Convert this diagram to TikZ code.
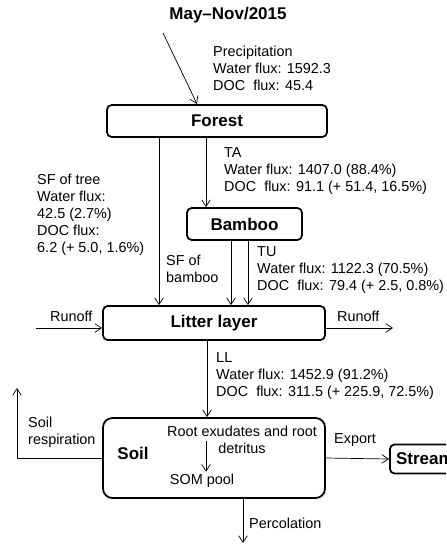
\documentclass[tikz,border=0pt]{standalone}
\usepackage{fontspec}
\setmainfont{Liberation Sans}
\usetikzlibrary{arrows.meta, positioning, calc}
\newcommand{\boxfont}{\fontsize{14.5}{17}\selectfont\bfseries}
\newcommand{\lblfont}{\fontsize{12.3}{14.6}\selectfont}
\tikzset{
  box/.style={rectangle, draw, rounded corners=4pt, line width=1.5pt,
    inner sep=0pt, font=\boxfont},
  arrow/.style={-{Straight Barb[length=2mm,width=2.6mm]}, line width=0.6pt},
  line/.style={line width=0.6pt},
  lbl/.style={align=left, anchor=west, inner sep=0pt, font=\lblfont}
}

\begin{document}
\begin{tikzpicture}[x=0.03cm, y=-0.03cm]
  \useasboundingbox (0,0) rectangle (446,544);
  \clip (0,0) rectangle (446,544);

  % boxes
  \node[font=\boxfont] (title) at (228,15) {May–Nov/2015};
  \node[box, minimum width=6.6cm, minimum height=0.96cm] (forest) at (217,121) {Forest};
  \node[box, minimum width=3.45cm, minimum height=0.96cm] (bamboo) at (244.5,224) {Bamboo};
  \node[box, minimum width=6.66cm, minimum height=1.02cm] (litter) at (214,323) {Litter layer};
  \node[box, rounded corners=8pt, minimum width=6.66cm, minimum height=2.4cm] (soil) at (214,458) {};
  \node[box, minimum width=2.1cm, minimum height=0.87cm, anchor=west] (stream) at (389,459) {Stream};

  % soil content
  \node[font=\boxfont] (soiltxt) at (133,453) {Soil};
  \node[font=\lblfont, align=center, inner sep=0pt] (root) at (242,440) {Root exudates and root\\detritus};
  \node[font=\lblfont, inner sep=0pt] (som) at (202,481) {SOM pool};
  \coordinate (rootarr) at (206,441);
  \draw[arrow] (rootarr) -- ([yshift=2pt]rootarr |- som.north);

  % flux labels
  \node[lbl] (prec) at (213,68) {Precipitation\\Water flux: 1592.3\\DOC~ flux: 45.4};
  \node[lbl] (ta) at (224,171) {TA\\Water flux: 1407.0 (88.4\%)\\DOC~ flux: 91.1 (+ 51.4, 16.5\%)};
  \node[lbl] (sftree) at (37,215) {SF of tree\\Water flux:\\42.5 (2.7\%)\\DOC flux:\\6.2 (+ 5.0, 1.6\%)};
  \node[lbl] (sfbam) at (166,269) {SF of\\bamboo};
  \node[lbl] (tu) at (257,270) {TU\\Water flux: 1122.3 (70.5\%)\\DOC~ flux: 79.4 (+ 2.5, 0.8\%)};
  \node[lbl] (ll) at (216,376) {LL\\Water flux: 1452.9 (91.2\%)\\DOC~ flux: 311.5 (+ 225.9, 72.5\%)};
  \node[lbl] (runl) at (50,316) {Runoff};
  \node[lbl] (runr) at (337,316) {Runoff};
  \node[lbl] (resp) at (28,432) {Soil\\respiration};
  \node[lbl] (export) at (334,440) {Export};
  \node[lbl] (perc) at (249,523) {Percolation};

  % connectors
  \coordinate (precin) at (163,33);
  \coordinate (sft) at (159,0);
  \coordinate (tax) at (206,0);
  \coordinate (sfb) at (231,0);
  \coordinate (tux) at (248,0);
  \coordinate (llx) at (207,0);
  \coordinate (runin) at (36,328);
  \coordinate (runout) at (393,328);
  \coordinate (respup) at (17,388);
  \coordinate (percout) at (243,543);

  \draw[arrow] (precin) -- (197,104);
  \draw[arrow] (forest.south -| sft) -- (litter.north -| sft);
  \draw[arrow] (forest.south -| tax) -- (bamboo.north -| tax);
  \draw[arrow] (bamboo.south -| sfb) -- (litter.north -| sfb);
  \draw[arrow] (bamboo.south -| tux) -- (litter.north -| tux);
  \draw[arrow] (runin) -- (runin -| litter.west);
  \draw[arrow] (runout -| litter.east) -- (runout);
  \draw[arrow] (litter.south -| llx) -- (soil.north -| llx);
  \draw[arrow] (soil.west) -| (respup);
  \draw[arrow] (soil.east) -- (stream.west);
  \draw[arrow] (soil.south -| percout) -- (percout);
\end{tikzpicture}
\end{document}
